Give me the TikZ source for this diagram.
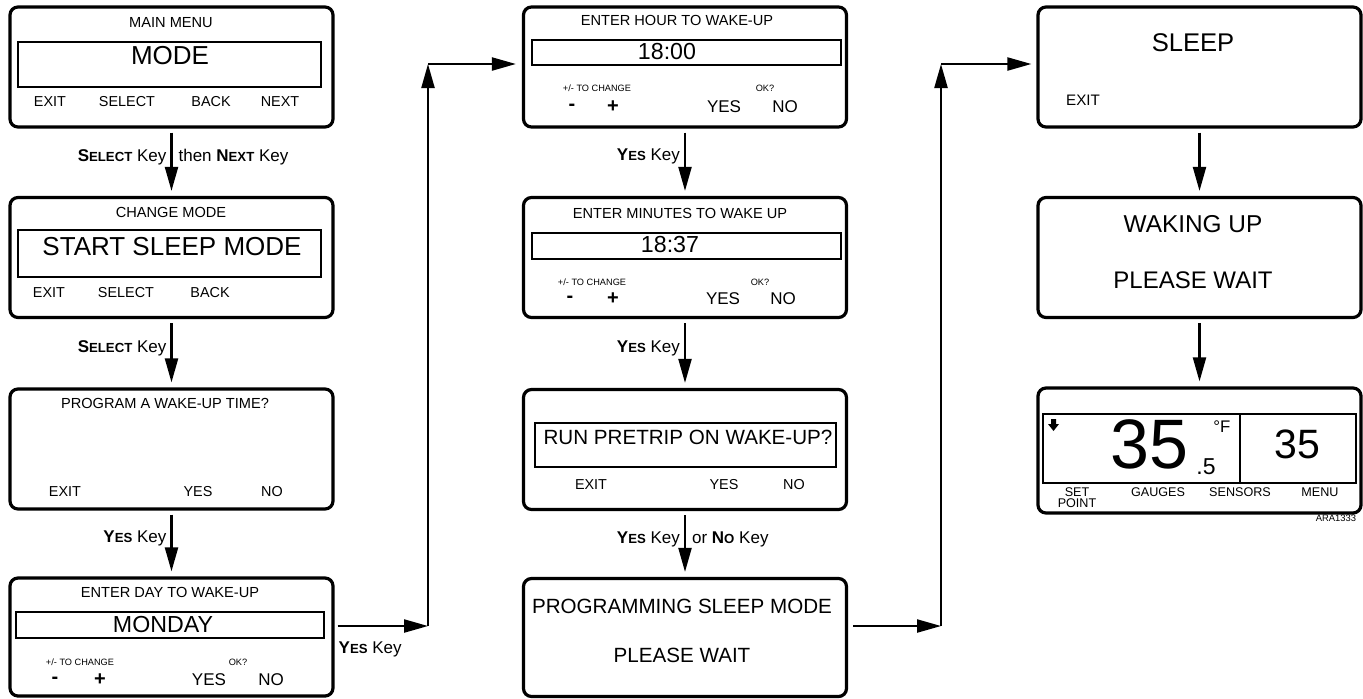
\documentclass[tikz,border=0pt]{standalone}
\usepackage{fontspec}
\setmainfont{Liberation Sans}
\usetikzlibrary{positioning,arrows.meta}

\newcommand\kcap[2]{\textbf{#1{\fontsize{6.6}{7}\selectfont #2}}}
\newcommand\fs[1]{\fontsize{#1}{#1}\selectfont}

\begin{document}
\begin{tikzpicture}[x=0.5pt,y=-0.5pt,>={Triangle[length=12pt,width=6.5pt]},
  screen/.style={draw,line width=1.6pt,rounded corners=4pt,minimum width=161.5pt,minimum height=60pt,inner sep=0pt},
  field/.style={draw,line width=0.6pt,inner sep=0pt},
  ttl/.style={inner sep=0pt,font=\fs{7.3}},
  soft/.style={inner sep=0pt,font=\fs{7.2}},
  hint/.style={inner sep=0pt,font=\fs{4.6}},
  btn/.style={inner sep=0pt,font=\fs{8.5}},
  pm/.style={inner sep=0pt,font=\bfseries\fs{10}},
  val/.style={inner sep=0pt,font=\fs{11.6}},
  msg/.style={inner sep=0pt,font=\fs{10.3}},
  big/.style={inner sep=0pt,font=\fs{13}},
  keylbl/.style={inner sep=0pt,font=\fs{8.5}},
  arr/.style={->,line width=1.1pt}]
\useasboundingbox (0,0) rectangle (1363,698);

% column 1
\node[screen] (b1) at (171.5,67) {};
\node[ttl] (t1) at (171,23) {MAIN MENU};
\node[field,minimum width=151.5pt,minimum height=22.5pt] (f1) at (169.5,64.5) {};
\node[big] (v1) at (170,56) {MODE};
\node[soft] (s1a) at (50,102) {EXIT};
\node[soft] (s1b) at (127,102) {SELECT};
\node[soft] (s1c) at (211,102) {BACK};
\node[soft] (s1d) at (280,102) {NEXT};

\node[screen] (b2) at (171.5,257.5) {};
\node[ttl] (t2) at (171,212) {CHANGE MODE};
\node[field,minimum width=151.5pt,minimum height=23.5pt] (f2) at (169.5,253.5) {};
\node[big] (v2) at (172,247) {START SLEEP MODE};
\node[soft] (s2a) at (49,293) {EXIT};
\node[soft] (s2b) at (126,293) {SELECT};
\node[soft] (s2c) at (210,293) {BACK};

\node[screen] (b3) at (171.5,449) {};
\node[ttl] (t3) at (165,403) {PROGRAM A WAKE-UP TIME?};
\node[soft] (s3a) at (65,492) {EXIT};
\node[soft] (s3b) at (198,492) {YES};
\node[soft] (s3c) at (272,492) {NO};

\node[screen,minimum height=59pt] (b4) at (171.5,637) {};
\node[ttl] (t4) at (170,592) {ENTER DAY TO WAKE-UP};
\node[field,minimum width=154pt,minimum height=13pt] (f4) at (170,625) {};
\node[val] (v4) at (163,624) {MONDAY};
\node[hint] (h4) at (80,662) {+/- TO CHANGE};
\node[hint] (k4) at (238,662) {OK?};
\node[pm] (m4) at (55,680) {-};
\node[pm] (p4) at (100,680) {+};
\node[btn] (y4) at (209,680) {YES};
\node[btn] (n4) at (271,680) {NO};

% column 2
\node[screen] (b5) at (685,67) {};
\node[ttl] (t5) at (677,20) {ENTER HOUR TO WAKE-UP};
\node[field,minimum width=154.5pt,minimum height=12.5pt] (f5) at (686.5,52.5) {};
\node[val] (v5) at (667,52) {18:00};
\node[hint] (h5) at (597,88) {+/- TO CHANGE};
\node[hint] (k5) at (765,88) {OK?};
\node[pm] (m5) at (572,107) {-};
\node[pm] (p5) at (613,107) {+};
\node[btn] (y5) at (724,107) {YES};
\node[btn] (n5) at (785,107) {NO};

\node[screen] (b6) at (685,257.5) {};
\node[ttl] (t6) at (680,213) {ENTER MINUTES TO WAKE UP};
\node[field,minimum width=154.5pt,minimum height=13pt] (f6) at (686.5,246) {};
\node[val] (v6) at (670,245) {18:37};
\node[hint] (h6) at (592,282) {+/- TO CHANGE};
\node[hint] (k6) at (760,282) {OK?};
\node[pm] (m6) at (570,299) {-};
\node[pm] (p6) at (613,299) {+};
\node[btn] (y6) at (723,299) {YES};
\node[btn] (n6) at (783,299) {NO};

\node[screen] (b7) at (685,449.5) {};
\node[field,minimum width=150.5pt,minimum height=22pt] (f7) at (685.5,445) {};
\node[msg] (v7) at (688,437) {RUN PRETRIP ON WAKE-UP?};
\node[soft] (s7a) at (591,485) {EXIT};
\node[soft] (s7b) at (724,485) {YES};
\node[soft] (s7c) at (794,485) {NO};

\node[screen,minimum height=59pt] (b8) at (685,637.5) {};
\node[msg] (v8) at (682,606) {PROGRAMMING SLEEP MODE};
\node[msg] (w8) at (682,655) {PLEASE WAIT};

% column 3
\node[screen] (b9) at (1199.5,67) {};
\node[inner sep=0pt,font=\fs{12.8}] (v9) at (1193,43) {SLEEP};
\node[inner sep=0pt,font=\fs{7.6}] (s9) at (1083,100) {EXIT};

\node[screen] (b10) at (1199.5,257.5) {};
\node[inner sep=0pt,font=\fs{12.2}] (v10) at (1193,224) {WAKING UP};
\node[inner sep=0pt,font=\fs{12}] (w10) at (1193,280) {PLEASE WAIT};

\node[screen,minimum height=62.5pt] (b11) at (1199.5,450.5) {};
\node[field,minimum width=156.5pt,minimum height=34.5pt] (f11) at (1199.5,448.5) {};
\draw[line width=0.6pt] (1240,414) -- (1240,483);
\fill (1051,419) -- (1056,419) -- (1056,424) -- (1059,424) -- (1053.5,431) -- (1048,424) -- (1051,424) -- cycle;
\node[inner sep=0pt,font=\fs{35},anchor=base] (sp) at (1149,468) {35};
\node[inner sep=0pt,font=\fs{11.5},anchor=base west] (dec) at (1196,474) {.5};
\node[inner sep=0pt,font=\fs{8.4},anchor=base west] (unit) at (1213,432) {°F};
\node[inner sep=0pt,font=\fs{20.5},anchor=base] (rd) at (1297,458) {35};
\node[inner sep=0pt,font=\fontsize{6.3}{5.6}\selectfont,align=center,anchor=north] (l1) at (1077,487.5) {SET\\POINT};
\node[inner sep=0pt,font=\fs{6.3}] (l2) at (1158,492) {GAUGES};
\node[inner sep=0pt,font=\fs{6.3}] (l3) at (1240,492) {SENSORS};
\node[inner sep=0pt,font=\fs{6.3}] (l4) at (1320,492) {MENU};
\node[inner sep=0pt,font=\fs{4.7}] (ref) at (1336,518) {ARA1333};

% down the columns
\draw[arr,shorten <=2pt,shorten >=2.5pt] (b1) -- (b2)
  node[pos=.43,left=2pt,keylbl] {\kcap{S}{ELECT} Key}
  node[pos=.43,right=3pt,keylbl] {then \kcap{N}{EXT} Key};
\draw[arr,shorten <=2pt,shorten >=2.5pt] (b2) -- (b3)
  node[pos=.43,left=2pt,keylbl] {\kcap{S}{ELECT} Key};
\draw[arr,shorten <=2pt,shorten >=2.5pt] (b3) -- (b4)
  node[pos=.43,left=2pt,keylbl] {\kcap{Y}{ES} Key};
\draw[arr,shorten <=2pt,shorten >=2.5pt] (b5) -- (b6)
  node[pos=.41,left=2pt,keylbl] {\kcap{Y}{ES} Key};
\draw[arr,shorten <=2pt,shorten >=2.5pt] (b6) -- (b7)
  node[pos=.42,left=2pt,keylbl] {\kcap{Y}{ES} Key};
\draw[arr,shorten <=2pt,shorten >=2.5pt] (b7) -- (b8)
  node[pos=.43,left=2pt,keylbl] {\kcap{Y}{ES} Key}
  node[pos=.43,right=3pt,keylbl] {or \kcap{N}{O} Key};
\draw[arr,shorten <=2pt,shorten >=2.5pt] (b9) -- (b10);
\draw[arr,shorten <=2pt,shorten >=2.5pt] (b10) -- (b11);

% across to the next column
\coordinate (c1) at (428,626);
\coordinate (c2) at (428,64);
\draw[arr,shorten <=1.5pt] (b4.east |- c1) -- (c1)
  node[pos=0,anchor=north west,yshift=-7.5pt,xshift=1.5pt,keylbl] {\kcap{Y}{ES} Key};
\draw[arr] (c1) -- (c2);
\draw[arr,shorten >=3pt] (c2) -- (c2 -| b5.west);

\coordinate (c3) at (941,626);
\coordinate (c4) at (941,64);
\draw[arr,shorten <=2.5pt] (b8.east |- c3) -- (c3);
\draw[arr] (c3) -- (c4);
\draw[arr,shorten >=2.5pt] (c4) -- (c4 -| b9.west);
\end{tikzpicture}
\end{document}
